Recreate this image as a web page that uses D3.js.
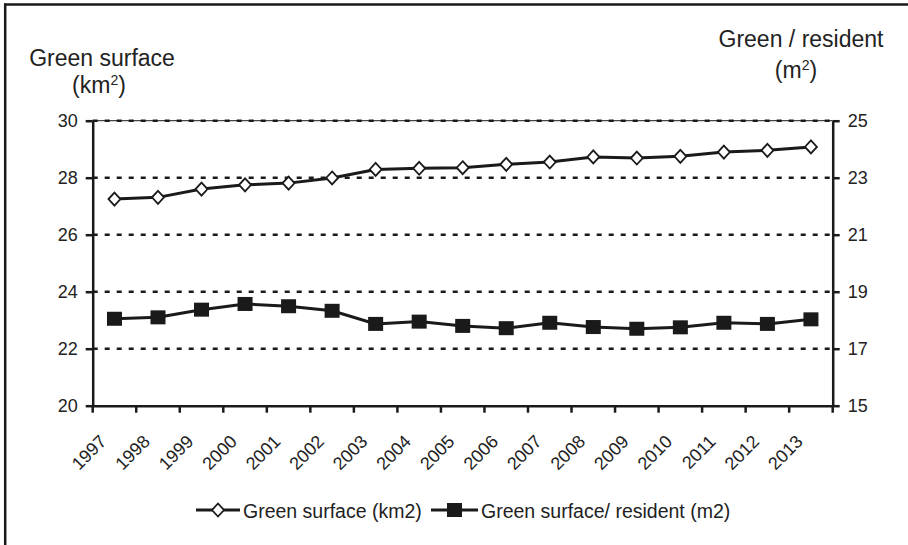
<!DOCTYPE html>
<html>
<head>
<meta charset="utf-8">
<script src="https://cdn.jsdelivr.net/npm/d3@7"></script>
<style>
    body { margin: 0; background: #fff; }
    svg { display: block; font-family: "Liberation Sans", Arial, sans-serif; }
    .axis path, .axis line { stroke: #1a1a1a; stroke-width: 2.5; }
    .axis text { fill: #222; font-size: 18px; font-family: "Liberation Sans", Arial, sans-serif; }
    .grid { stroke: #1a1a1a; stroke-width: 2.5; stroke-dasharray: 5 7; }
    .title { fill: #222; font-size: 23px; }
    .legend text { fill: #222; font-size: 19.5px; }
</style>
</head>
<body>
<svg id="chart" width="908" height="545"></svg>
<script>
var years = ["1997", "1998", "1999", "2000", "2001", "2002", "2003", "2004", "2005",
             "2006", "2007", "2008", "2009", "2010", "2011", "2012", "2013"];

// green surface, km2 (left axis)
var surface = [27.25, 27.31, 27.60, 27.75, 27.81, 27.99, 28.29, 28.33, 28.35,
               28.47, 28.55, 28.73, 28.69, 28.75, 28.90, 28.96, 29.08];

// green surface per resident, m2 (right axis)
var perResident = [18.05, 18.10, 18.37, 18.57, 18.49, 18.33, 17.87, 17.95, 17.80,
                   17.72, 17.91, 17.76, 17.70, 17.75, 17.91, 17.87, 18.03];

var leftTicks = [20, 22, 24, 26, 28, 30];
var rightTicks = [15, 17, 19, 21, 23, 25];
var seriesNames = ["Green surface (km2)", "Green surface/ resident (m2)"];

(function() {
    var svg = d3.select("#chart")
        , ink = "#1a1a1a"
        , left = 92.7
        , right = 832.7
        , plotTop = 120.7
        , bottom = 405.7
        ;

    var x = d3.scaleBand().domain(years).range([left, right]).padding(0);
    var yL = d3.scaleLinear().domain([20, 30]).range([bottom, plotTop]);
    var yR = d3.scaleLinear().domain([15, 25]).range([bottom, plotTop]);

    // outer frame (only top and left edges are visible)
    svg.append("line").attr("x1", 4).attr("x2", 908).attr("y1", 4.5).attr("y2", 4.5)
        .attr("stroke", ink).attr("stroke-width", 2.5);
    svg.append("line").attr("x1", 5.2).attr("x2", 5.2).attr("y1", 3.5).attr("y2", 545)
        .attr("stroke", ink).attr("stroke-width", 2.5);

    // gridlines
    svg.append("line")
        .attr("x1", left).attr("x2", right)
        .attr("y1", yL(30)).attr("y2", yL(30))
        .attr("stroke", ink).attr("stroke-width", 1);

    svg.selectAll("line.grid")
        .data(leftTicks.filter(function(d) { return d > 20; }))
        .enter().append("line")
        .attr("class", "grid")
        .attr("x1", left).attr("x2", right)
        .attr("y1", function(d) { return yL(d); })
        .attr("y2", function(d) { return yL(d); });

    // y axes
    svg.append("g")
        .attr("class", "axis axis--left")
        .attr("transform", "translate(" + left + ",0)")
        .call(d3.axisLeft(yL).tickValues(leftTicks).tickSize(7).tickSizeOuter(0).tickPadding(8));

    svg.append("g")
        .attr("class", "axis axis--right")
        .attr("transform", "translate(" + right + ",0)")
        .call(d3.axisRight(yR).tickValues(rightTicks).tickSize(7).tickSizeOuter(0).tickPadding(8));

    // x axis: labels at band centres, ticks at band edges
    var xAxis = svg.append("g")
        .attr("class", "axis axis--x")
        .attr("transform", "translate(0," + bottom + ")")
        .call(d3.axisBottom(x).tickSize(0).tickSizeOuter(0));

    xAxis.selectAll("text")
        .attr("x", 0).attr("y", 0).attr("dy", 0)
        .attr("text-anchor", "end")
        .style("font-size", "18px")
        .attr("transform", "translate(-7,37) rotate(-45)");

    var edges = years.map(function(d) { return x(d); }).concat([right]);
    xAxis.selectAll("line.edge")
        .data(edges)
        .enter().append("line")
        .attr("class", "edge")
        .attr("x1", function(d) { return d; }).attr("x2", function(d) { return d; })
        .attr("y1", 0).attr("y2", 7);

    // axis titles
    var lt = svg.append("text").attr("class", "title").attr("text-anchor", "middle");
    lt.append("tspan").attr("x", 102).attr("y", 66).text("Green surface");
    var lt2 = lt.append("tspan").attr("x", 99).attr("y", 93).text("(km");
    lt2.append("tspan").attr("dy", -8).style("font-size", "14px").text("2");
    lt.append("tspan").attr("dy", 8).text(")");

    var rt = svg.append("text").attr("class", "title").attr("text-anchor", "middle");
    rt.append("tspan").attr("x", 801).attr("y", 47).text("Green / resident");
    rt.append("tspan").attr("x", 796).attr("y", 78).text("(m")
        .append("tspan").attr("dy", -8).style("font-size", "14px").text("2");
    rt.append("tspan").attr("dy", 8).text(")");

    // series
    var cx = function(d, i) { return x(years[i]) + x.bandwidth() / 2; };

    var line1 = d3.line().x(cx).y(function(d) { return yL(d); });
    var line2 = d3.line().x(cx).y(function(d) { return yR(d); });

    svg.append("path").attr("d", line1(surface))
        .attr("fill", "none").attr("stroke", ink).attr("stroke-width", 3);
    svg.append("path").attr("d", line2(perResident))
        .attr("fill", "none").attr("stroke", ink).attr("stroke-width", 3);

    var diamond = "M0,-6.5L6,0L0,6.5L-6,0Z";

    svg.selectAll("path.diamond")
        .data(surface)
        .enter().append("path")
        .attr("class", "diamond")
        .attr("d", diamond)
        .attr("transform", function(d, i) { return "translate(" + cx(d, i) + "," + yL(d) + ")"; })
        .attr("fill", "#fff").attr("stroke", ink).attr("stroke-width", 1.8);

    svg.selectAll("rect.square")
        .data(perResident)
        .enter().append("rect")
        .attr("class", "square")
        .attr("x", function(d, i) { return cx(d, i) - 7.5; })
        .attr("y", function(d) { return yR(d) - 7; })
        .attr("width", 15).attr("height", 14)
        .attr("fill", ink);

    // legend
    var legend = svg.append("g").attr("class", "legend");
    var legendItems = [
        {name: seriesNames[0], x0: 196, x1: 240, tx: 243, marker: "diamond"},
        {name: seriesNames[1], x0: 431, x1: 478, tx: 481, marker: "square"}
    ];
    var ly = 510;

    legendItems.forEach(function(it) {
        legend.append("line")
            .attr("x1", it.x0).attr("x2", it.x1).attr("y1", ly).attr("y2", ly)
            .attr("stroke", ink).attr("stroke-width", 3);
        var mx = (it.x0 + it.x1) / 2;
        if (it.marker == "diamond") {
            legend.append("path").attr("d", diamond)
                .attr("transform", "translate(" + mx + "," + ly + ")")
                .attr("fill", "#fff").attr("stroke", ink).attr("stroke-width", 1.8);
        } else {
            legend.append("rect")
                .attr("x", mx - 7.5).attr("y", ly - 7).attr("width", 15).attr("height", 14)
                .attr("fill", ink);
        }
        legend.append("text").attr("x", it.tx).attr("y", ly + 8).text(it.name);
    });
})();
</script>
</body>
</html>
